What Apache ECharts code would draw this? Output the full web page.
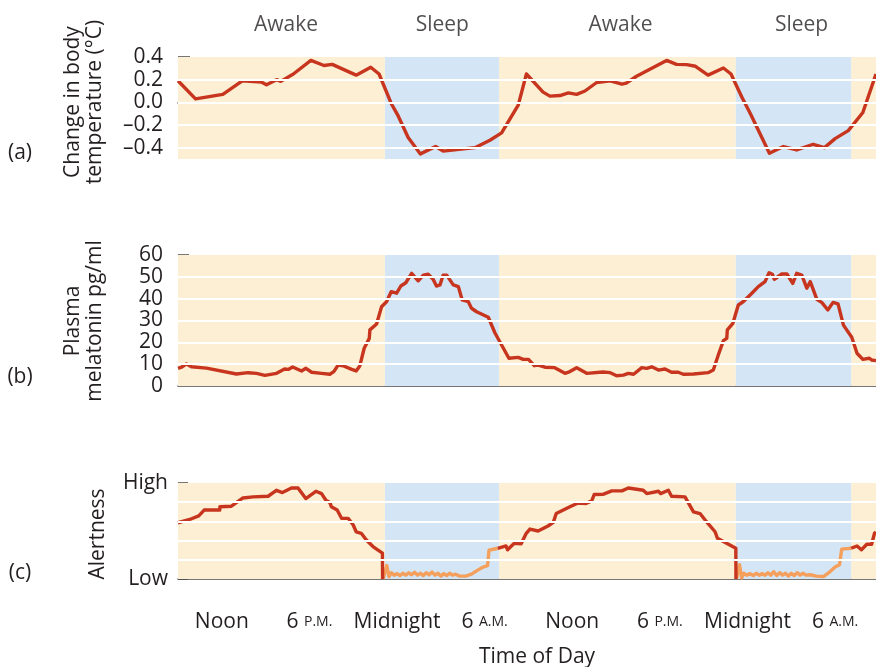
<!DOCTYPE html>
<html>
<head>
<meta charset="utf-8">
<script src="https://cdn.jsdelivr.net/npm/echarts@6/dist/echarts.min.js"></script>
<style>
  html, body { margin: 0; padding: 0; background: #fff; }
  #chart { width: 876px; height: 667px; }
</style>
</head>
<body>
<div id="chart"></div>
<script>
// Hours are counted from midnight of day 1 (9 = 9 A.M. day 1, 33 = 9 A.M. day 2).
const tickHours = [12, 18, 24, 30, 36, 42, 48, 54];
const tickLabels = ['Noon', '6 P.M.', 'Midnight', '6 A.M.', 'Noon', '6 P.M.', 'Midnight', '6 A.M.'];

const stateNames = ['Awake', 'Sleep', 'Awake', 'Sleep'];
const stateLabelHours = [16.4, 27.1, 39.3, 51.7];

// Awake / sleep periods [start, end]
const awakePeriods = [[9, 23.17], [30.98, 47.2], [55.1, 56.8]];
const sleepPeriods = [[23.17, 30.98], [47.2, 55.1]];

// (a) change in body temperature, deg C
const tempPoints = [
  [9.0, 0.19], [10.2, 0.03], [12.07, 0.07], [13.4, 0.19], [14.7, 0.18], [15.06, 0.155],
  [15.75, 0.2], [16.04, 0.185], [16.9, 0.25], [18.1, 0.37], [19.0, 0.325], [19.56, 0.335],
  [21.2, 0.24], [22.2, 0.31], [22.77, 0.25], [23.6, -0.01], [24.04, -0.11], [24.76, -0.31],
  [25.6, -0.455], [26.64, -0.39], [27.16, -0.43], [29.33, -0.40], [30.36, -0.335],
  [31.16, -0.27], [32.3, -0.025], [32.86, 0.25], [34.0, 0.09], [34.47, 0.055], [35.16, 0.06],
  [35.73, 0.083], [36.3, 0.07], [36.87, 0.10], [37.67, 0.175], [38.6, 0.19], [39.4, 0.16],
  [39.7, 0.17], [40.4, 0.23], [42.46, 0.37], [43.14, 0.335], [43.83, 0.333], [44.44, 0.318],
  [45.3, 0.24], [46.35, 0.303], [46.87, 0.25], [47.6, 0.05], [48.2, -0.10], [49.5, -0.45],
  [50.46, -0.39], [51.37, -0.42], [52.5, -0.37], [53.27, -0.40], [54.0, -0.32], [54.9, -0.25],
  [55.9, -0.09], [56.8, 0.25]
];

// (b) plasma melatonin, pg/ml
const melatoninPoints = [
  [9.0, 8.1], [9.24, 8.6], [9.58, 10.1], [9.92, 8.8], [10.95, 8.2], [13.0, 5.5], [13.8, 6.1],
  [14.38, 5.8], [14.95, 4.9], [15.75, 5.8], [16.3, 7.8], [16.55, 7.6], [16.85, 8.7],
  [17.46, 6.9], [17.76, 8.1], [18.15, 6.3], [18.83, 5.8], [19.4, 5.4], [19.67, 6.6],
  [19.97, 9.6], [20.3, 9.3], [20.9, 7.6], [21.2, 6.9], [21.45, 9.2], [21.75, 17.3],
  [22.1, 21.8], [22.14, 25.7], [22.6, 28.4], [22.94, 36.3], [23.28, 38.6], [23.6, 43.2],
  [23.97, 42.5], [24.26, 45.8], [24.6, 47.3], [25.0, 51.6], [25.45, 48.2], [25.8, 50.8],
  [26.13, 51.2], [26.47, 48.9], [26.7, 45.8], [26.94, 46.3], [27.16, 50.8], [27.4, 50.8],
  [27.85, 46.3], [28.2, 45.5], [28.46, 39.4], [28.88, 38.6], [29.1, 35.6], [29.45, 34.0],
  [30.25, 31.5], [30.7, 24.4], [31.16, 18.8], [31.66, 12.7], [32.3, 13.1], [32.64, 12.2],
  [33.0, 12.2], [33.4, 9.3], [33.67, 9.6], [34.13, 8.6], [34.8, 8.4], [35.5, 5.8],
  [35.84, 6.6], [36.3, 8.4], [36.99, 5.8], [38.1, 6.4], [38.6, 6.1], [39.04, 4.7],
  [39.5, 5.0], [39.84, 5.8], [40.2, 5.4], [40.76, 8.4], [41.1, 8.1], [41.44, 8.8],
  [41.9, 7.3], [42.35, 7.8], [42.8, 6.3], [43.26, 6.3], [43.6, 5.4], [44.3, 5.5],
  [45.3, 6.1], [45.66, 7.3], [46.0, 14.2], [46.35, 20.8], [46.58, 21.8], [46.62, 25.7],
  [47.0, 28.7], [47.37, 37.1], [47.7, 38.6], [48.3, 42.5], [48.74, 45.5], [49.2, 47.8],
  [49.48, 51.9], [49.7, 51.2], [49.84, 48.9], [50.35, 51.3], [50.7, 51.3], [51.1, 47.0],
  [51.37, 51.6], [51.72, 50.8], [52.06, 44.8], [52.3, 47.8], [52.75, 39.7], [53.1, 38.2],
  [53.5, 34.8], [53.86, 38.3], [54.2, 37.6], [54.57, 27.9], [55.14, 22.3], [55.5, 15.0],
  [55.9, 12.2], [56.35, 12.7], [56.5, 11.9], [56.8, 11.6]
];

// (c) alertness, 0 = Low ... 5 = High; awake stretches
const alertAwake1 = [
  [9.0, 2.93], [9.8, 3.1], [10.42, 3.29], [10.79, 3.59], [11.86, 3.59], [11.87, 3.76],
  [12.66, 3.79], [13.45, 4.22], [14.14, 4.28], [15.17, 4.31], [15.74, 4.62], [16.15, 4.5],
  [16.77, 4.74], [17.22, 4.74], [17.75, 4.19], [18.44, 4.57], [18.83, 4.45], [19.13, 4.1],
  [19.4, 3.99], [19.5, 3.76], [19.9, 3.59], [20.2, 3.16], [20.65, 3.16], [21.0, 2.81],
  [21.2, 2.46], [21.55, 2.38], [21.9, 2.03], [22.35, 1.69], [23.0, 1.35], [23.01, 0]
];
const alertAwake2 = [
  [30.9, 1.6], [31.46, 1.72], [31.57, 1.52], [32.03, 1.86], [32.5, 1.83], [32.85, 2.38],
  [33.1, 2.6], [33.66, 2.5], [34.34, 2.76], [34.7, 2.95], [34.9, 3.41], [35.84, 3.76],
  [36.4, 3.96], [36.94, 3.93], [37.33, 4.07], [37.5, 4.4], [38.1, 4.41], [38.7, 4.59],
  [39.4, 4.59], [39.84, 4.74], [40.86, 4.62], [41.1, 4.45], [41.9, 4.57], [42.05, 4.45],
  [42.58, 4.62], [42.8, 4.31], [43.72, 4.28], [44.3, 3.5], [44.75, 3.41], [45.1, 3.07],
  [45.78, 2.46], [45.94, 2.12], [47.2, 1.6], [47.21, 0]
];
const alertAwake3 = [
  [55.1, 1.6], [55.5, 1.72], [55.8, 1.52], [56.17, 1.81], [56.5, 1.81], [56.7, 2.38], [56.8, 2.45]
];
// sleep stretches
const alertSleep1 = [
  [23.05, 0.0], [23.3, 0.7], [23.45, 0.12], [23.6, 0.33], [23.8, 0.2], [24.0, 0.28],
  [24.2, 0.18], [24.4, 0.3], [24.6, 0.2], [24.8, 0.32], [25.0, 0.22], [25.2, 0.35],
  [25.4, 0.2], [25.6, 0.3], [25.8, 0.18], [26.0, 0.33], [26.2, 0.22], [26.4, 0.36],
  [26.6, 0.2], [26.8, 0.3], [27.0, 0.15], [27.2, 0.28], [27.4, 0.18], [27.6, 0.3],
  [27.8, 0.2], [28.0, 0.25], [28.3, 0.15], [28.7, 0.15], [29.1, 0.25], [29.5, 0.45],
  [29.9, 0.62], [30.2, 0.7], [30.3, 1.5], [30.6, 1.55], [30.9, 1.6]
];
const alertSleep2 = [
  [47.25, 0.0], [47.45, 0.75], [47.6, 0.05], [47.75, 0.3], [47.95, 0.2], [48.15, 0.28],
  [48.4, 0.18], [48.6, 0.3], [48.8, 0.2], [49.0, 0.28], [49.2, 0.2], [49.4, 0.32],
  [49.6, 0.2], [49.8, 0.38], [50.0, 0.18], [50.2, 0.33], [50.4, 0.2], [50.6, 0.3],
  [50.8, 0.15], [51.0, 0.3], [51.2, 0.18], [51.4, 0.33], [51.6, 0.2], [51.8, 0.3],
  [52.0, 0.2], [52.3, 0.22], [52.7, 0.15], [53.2, 0.13], [53.6, 0.35], [54.0, 0.62],
  [54.3, 0.74], [54.45, 1.55], [54.8, 1.58], [55.1, 1.6]
];

const tempTicks = [-0.4, -0.2, 0, 0.2, 0.4];
const tempGrid = [-0.4, -0.2, 0, 0.2];
const melatoninGrid = [10, 20, 30, 40, 50];
const alertGrid = [1, 2, 3, 4];

const FONT = 'Open Sans';
const INK = '#231f20';
const RED = '#c8351e';
const ORANGE = '#f4a05c';
const PEACH = '#fdefd3';
const BLUE = '#d4e5f5';
const AXIS = '#4a4a4a';

const chart = echarts.init(document.getElementById('chart'), null, { renderer: 'canvas' });

const grids = [
  { left: 178, right: 0, top: 57, height: 102 },
  { left: 178, right: 0, top: 255, height: 131 },
  { left: 178, right: 0, top: 483, height: 96 }
];

function xAxisFor(i, showLabels) {
  return {
    type: 'value', gridIndex: i, min: 9, max: 56.8,
    axisLine: { show: true, lineStyle: { color: AXIS, width: 1.5 } },
    axisTick: { show: true, inside: true, length: 5, customValues: tickHours,
      lineStyle: { color: AXIS, width: 1.5 } },
    splitLine: { show: false },
    axisLabel: showLabels ? {
      show: true, customValues: tickHours, margin: 33,
      fontFamily: FONT, fontSize: 21, color: INK,
      formatter: v => {
        const t = tickLabels[tickHours.indexOf(v)] || '';
        return t.replace(/([AP]\.M\.)/, '{sc|$1}');
      },
      rich: { sc: { fontFamily: FONT, fontSize: 14, color: INK } }
    } : { show: false }
  };
}

const bandAreas = awakePeriods.map(p => [{ xAxis: p[0], itemStyle: { color: PEACH } }, { xAxis: p[1] }])
  .concat(sleepPeriods.map(p => [{ xAxis: p[0], itemStyle: { color: BLUE } }, { xAxis: p[1] }]));

function bandSeries(i) {
  return {
    type: 'line', xAxisIndex: i, yAxisIndex: i, data: [], z: -2, silent: true,
    markArea: { silent: true, data: bandAreas }
  };
}
function gridSeries(i, values) {
  return {
    type: 'line', xAxisIndex: i, yAxisIndex: i, data: [], z: -1, silent: true,
    markLine: {
      silent: true, symbol: ['none', 'none'], label: { show: false },
      lineStyle: { color: '#ffffff', width: 2, type: 'solid' },
      data: values.map(v => ({ yAxis: v }))
    }
  };
}
function lineSeries(i, data, color) {
  return {
    type: 'line', xAxisIndex: i, yAxisIndex: i, data: data, showSymbol: false, symbol: 'none',
    lineStyle: { color: color, width: 3.4, join: 'round' }, z: 3
  };
}

const labelStyle = { fontFamily: FONT, fontSize: 21, color: INK };
const textFont = '21px "Open Sans"';

const option = {
  animation: false,
  grid: grids,
  xAxis: [xAxisFor(0, false), xAxisFor(1, false), xAxisFor(2, true)],
  yAxis: [
    {
      type: 'value', gridIndex: 0, min: -0.5, max: 0.4,
      axisLine: { show: false },
      axisTick: { show: true, inside: true, length: 12, customValues: [0.4],
        lineStyle: { color: AXIS, width: 1.5 } },
      splitLine: { show: false },
      axisLabel: Object.assign({ customValues: tempTicks, margin: 15,
        formatter: v => (v < -1e-9 ? '\u2013' : '') + Math.abs(v).toFixed(1) }, labelStyle)
    },
    {
      type: 'value', gridIndex: 1, min: 0, max: 60, interval: 10,
      axisLine: { show: false },
      axisTick: { show: true, inside: true, length: 11, customValues: [60],
        lineStyle: { color: AXIS, width: 1.5 } },
      splitLine: { show: false },
      axisLabel: Object.assign({ margin: 15 }, labelStyle)
    },
    {
      type: 'value', gridIndex: 2, min: 0, max: 5, interval: 1,
      axisLine: { show: false },
      axisTick: { show: true, inside: true, length: 10,
        lineStyle: { color: AXIS, width: 1.5 } },
      splitLine: { show: false },
      axisLabel: Object.assign({ margin: 10,
        formatter: v => (v === 5 ? 'High' : v === 0 ? 'Low' : '') }, labelStyle)
    }
  ],
  series: [
    bandSeries(0), bandSeries(1), bandSeries(2),
    gridSeries(0, tempGrid), gridSeries(1, melatoninGrid), gridSeries(2, alertGrid),
    lineSeries(0, tempPoints, RED),
    lineSeries(1, melatoninPoints, RED),
    lineSeries(2, alertSleep1, ORANGE),
    lineSeries(2, alertSleep2, ORANGE),
    lineSeries(2, alertAwake1, RED),
    lineSeries(2, alertAwake2, RED),
    lineSeries(2, alertAwake3, RED),
    {
      type: 'scatter', xAxisIndex: 0, yAxisIndex: 0, symbolSize: 0, silent: true,
      data: stateNames.map((n, k) => ({ name: n, value: [stateLabelHours[k], 0.4] })),
      label: Object.assign({ show: true, position: 'top', distance: 21, formatter: p => p.name }, labelStyle)
    }
  ],
  graphic: [
    { type: 'text', x: 20, y: 153, style: { text: '(a)', textAlign: 'center', textVerticalAlign: 'middle', font: textFont, fill: INK } },
    { type: 'text', x: 20, y: 377, style: { text: '(b)', textAlign: 'center', textVerticalAlign: 'middle', font: textFont, fill: INK } },
    { type: 'text', x: 20, y: 573, style: { text: '(c)', textAlign: 'center', textVerticalAlign: 'middle', font: textFont, fill: INK } },
    { type: 'text', x: 84, y: 102, rotation: Math.PI / 2,
      style: { text: 'Change in body\ntemperature (\u00b0C)', textAlign: 'center', textVerticalAlign: 'middle', font: textFont, lineHeight: 22, fill: INK } },
    { type: 'text', x: 84, y: 321, rotation: Math.PI / 2,
      style: { text: 'Plasma\nmelatonin pg/ml', textAlign: 'center', textVerticalAlign: 'middle', font: textFont, lineHeight: 22, fill: INK } },
    { type: 'text', x: 98, y: 534, rotation: Math.PI / 2,
      style: { text: 'Alertness', textAlign: 'center', textVerticalAlign: 'middle', font: textFont, fill: INK } },
    { type: 'text', x: 537, y: 657,
      style: { text: 'Time of Day', textAlign: 'center', textVerticalAlign: 'middle', font: textFont, fill: INK } }
  ]
};

chart.setOption(option);
</script>
</body>
</html>
